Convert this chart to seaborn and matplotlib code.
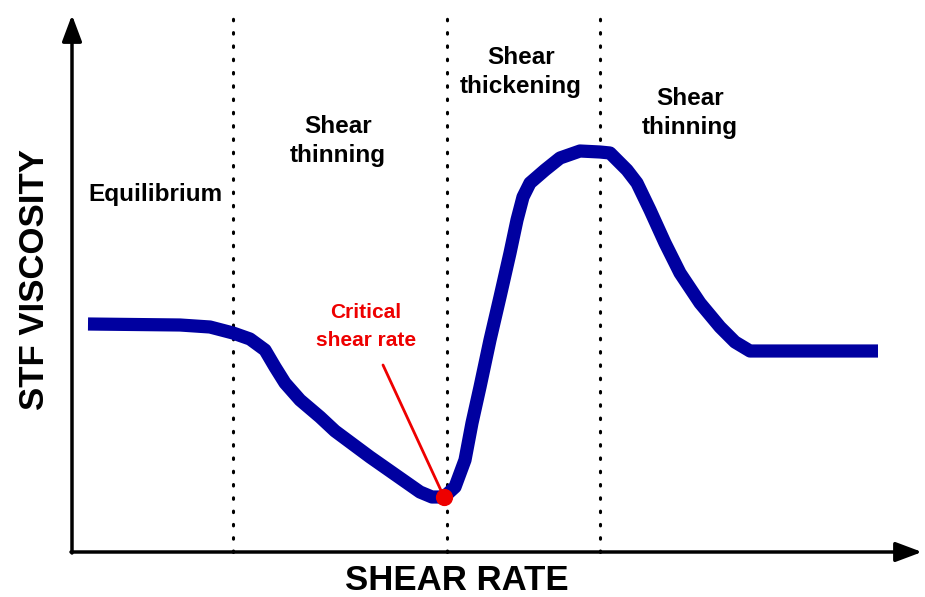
import numpy as np
import pandas as pd
import seaborn as sns
import matplotlib.pyplot as plt

# curve (x = shear rate, y = viscosity, arbitrary units)
shear_rate = [88, 180, 210, 233, 250, 265, 275, 285, 300, 320, 335, 370, 400,
              420, 432, 444, 455, 465, 472, 480, 490, 500, 510, 517, 523, 530,
              545, 560, 580, 600, 610, 627, 637, 650, 665, 680, 700, 720, 735,
              750, 765, 878]
viscosity = [273, 272, 270, 264, 258, 247, 230, 214, 197, 180, 166, 140, 119,
             105, 100, 100, 110, 137, 174, 210, 257, 300, 344, 377, 400, 414,
             427, 439, 446, 445, 444, 427, 414, 387, 354, 324, 294, 270, 255,
             246, 246, 246]

region_bounds = [233, 447, 600]
region_labels = ["Equilibrium", "Shear\nthinning", "Shear\nthickening", "Shear\nthinning"]
label_x = [155, 338, 521, 690]
label_y = [403, 456, 525, 484]

critical_x, critical_y = 444, 100

sns.set_style("white")
plt.rcParams['font.family'] = ['Liberation Sans', 'DejaVu Sans']
plt.rcParams['text.color'] = 'black'

fig = plt.figure(figsize=(9.25, 5.97), dpi=100)
ax = fig.add_axes([0, 0, 1, 1])
ax.set_xlim(0, 925)
ax.set_ylim(0, 597)
ax.axis('off')

df = pd.DataFrame({"rate": shear_rate, "visc": viscosity})
sns.lineplot(data=df, x="rate", y="visc", ax=ax, color="#0000a0", lw=9.5,
             solid_joinstyle='round', solid_capstyle='butt', zorder=3)

for b in region_bounds:
    ax.plot([b, b], [45, 582], color='black', lw=2.2, ls=(0, (0.5, 3.85)),
            dash_capstyle='round', zorder=2)

# axes arrows
ax.annotate("", xy=(72, 582), xytext=(72, 44),
            arrowprops=dict(arrowstyle="-|>,head_length=1.6,head_width=0.6",
                            lw=2.5, color='black', shrinkA=0, shrinkB=0))
ax.annotate("", xy=(922, 45), xytext=(71, 45),
            arrowprops=dict(arrowstyle="-|>,head_length=1.6,head_width=0.6",
                            lw=2.5, color='black', shrinkA=0, shrinkB=0))

for t, x, y in zip(region_labels, label_x, label_y):
    ax.text(x, y, t, ha='center', va='center', fontsize=17.5, fontweight='bold',
            linespacing=1.35)

ax.text(366, 270, "Critical\nshear rate", ha='center', va='center',
        fontsize=15, fontweight='bold', color='#ee0000', linespacing=1.6)
ax.plot([383, critical_x], [232, critical_y], color='#ee0000', lw=2, zorder=4)
ax.scatter([critical_x], [critical_y], s=130, color='#ee0000', zorder=5)

ax.text(457, 17, "SHEAR RATE", ha='center', va='center', fontsize=25,
        fontweight='bold')
ax.text(35, 317, "STF VISCOSITY", ha='center', va='center', fontsize=25,
        fontweight='bold', rotation=90)

fig.savefig("out.png", dpi=100)
